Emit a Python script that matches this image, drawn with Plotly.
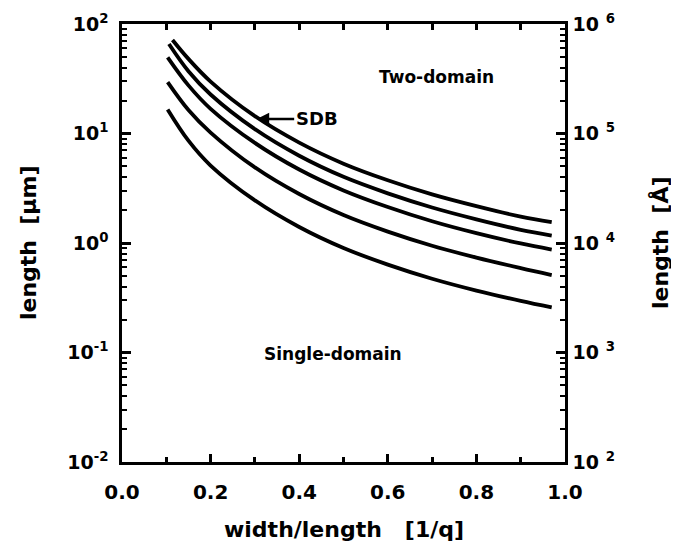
import math
import plotly.graph_objects as go

# ---- data ----
x_c1 = [0.114, 0.15, 0.2, 0.3, 0.4, 0.5, 0.6, 0.7, 0.8, 0.9, 0.97]
y_c1 = [71.5, 48, 29.8, 14.4, 8.25, 5.30, 3.74, 2.78, 2.17, 1.74, 1.55]
x_c2 = [0.106, 0.15, 0.2, 0.3, 0.4, 0.5, 0.6, 0.7, 0.8, 0.9, 0.97]
y_c2 = [65.6, 37, 22.7, 10.95, 6.26, 4.02, 2.84, 2.11, 1.645, 1.32, 1.17]
x_c3 = [0.103, 0.15, 0.2, 0.3, 0.4, 0.5, 0.6, 0.7, 0.8, 0.9, 0.97]
y_c3 = [49.6, 27.5, 16.8, 8.2, 4.69, 3.02, 2.13, 1.58, 1.23, 0.99, 0.87]
x_c4 = [0.103, 0.15, 0.2, 0.3, 0.4, 0.5, 0.6, 0.7, 0.8, 0.9, 0.97]
y_c4 = [29.5, 16.4, 10.2, 4.9, 2.8, 1.80, 1.27, 0.944, 0.736, 0.59, 0.51]
x_c5 = [0.103, 0.15, 0.2, 0.3, 0.4, 0.5, 0.6, 0.7, 0.8, 0.9, 0.97]
y_c5 = [16.6, 8.6, 5.1, 2.45, 1.40, 0.90, 0.635, 0.472, 0.368, 0.296, 0.258]

x_ticks = [0.0, 0.2, 0.4, 0.6, 0.8, 1.0]
x_ticklabels = ["0.0", "0.2", "0.4", "0.6", "0.8", "1.0"]
x_minor = [0.1, 0.3, 0.5, 0.7, 0.9]
yl_ticks = [0.01, 0.1, 1, 10, 100]
yl_ticklabels = ["10<sup>-2</sup>", "10<sup>-1</sup>", "10<sup>0</sup>", "10<sup>1</sup>", "10<sup>2</sup>"]
yr_ticks = [1e2, 1e3, 1e4, 1e5, 1e6]
yr_ticklabels = ["10 <sup>2</sup>", "10 <sup>3</sup>", "10 <sup>4</sup>", "10 <sup>5</sup>", "10 <sup>6</sup>"]
y_minor = [m * 10.0 ** e for e in (-2, -1, 0, 1) for m in range(2, 10)]

FONT = "DejaVu Sans"
NB = "\u00a0"

fig = go.Figure()
for xs, ys in [(x_c1, y_c1), (x_c2, y_c2), (x_c3, y_c3), (x_c4, y_c4), (x_c5, y_c5)]:
    fig.add_trace(go.Scatter(x=xs, y=ys, mode="lines",
                             line=dict(color="black", width=3.8, shape="spline", smoothing=1.0),
                             showlegend=False, hoverinfo="skip"))
# empty traces to anchor the helper axes (tick-only axes)
fig.add_trace(go.Scatter(x=[], y=[], yaxis="y2", showlegend=False, hoverinfo="skip"))
fig.add_trace(go.Scatter(x=[], y=[], xaxis="x2", yaxis="y3", showlegend=False, hoverinfo="skip"))
fig.add_trace(go.Scatter(x=[], y=[], xaxis="x3", yaxis="y4", showlegend=False, hoverinfo="skip"))

tickfont_x = dict(family=FONT, size=20, color="black", weight="bold")
tickfont_y = dict(family=FONT, size=19, color="black", weight="bold")
blank = lambda v: [""] * len(v)

fig.update_layout(
    template="none",
    width=671, height=542,
    margin=dict(l=114, r=114, t=16, b=88, autoexpand=False),
    paper_bgcolor="white", plot_bgcolor="white",
    xaxis=dict(range=[0, 1], tickmode="array", tickvals=x_ticks, ticktext=x_ticklabels,
               ticks="inside", ticklen=8, tickwidth=2.5, tickcolor="black",
               showline=True, linewidth=3, linecolor="black", mirror=True,
               showgrid=False, zeroline=False, tickfont=tickfont_x,
               ticklabelstandoff=10, automargin=False),
    xaxis2=dict(range=[0, 1], overlaying="x", anchor="y", side="bottom",
                tickmode="array", tickvals=x_minor, ticktext=blank(x_minor),
                ticks="inside", ticklen=5, tickwidth=2.5, tickcolor="black",
                showline=False, showgrid=False, zeroline=False, automargin=False),
    xaxis3=dict(range=[0, 1], overlaying="x", anchor="y", side="top",
                tickmode="array", tickvals=x_ticks + x_minor,
                ticktext=blank(x_ticks + x_minor),
                ticks="inside", ticklen=6, tickwidth=2.5, tickcolor="black",
                showline=False, showgrid=False, zeroline=False, automargin=False),
    yaxis=dict(type="log", range=[-2, 2], tickmode="array", tickvals=yl_ticks,
               ticktext=[t + NB for t in yl_ticklabels],
               ticks="inside", ticklen=9, tickwidth=2.5, tickcolor="black",
               showline=True, linewidth=3, linecolor="black", mirror=True,
               showgrid=False, zeroline=False, tickfont=tickfont_y, automargin=False),
    yaxis3=dict(type="log", range=[-2, 2], overlaying="y", anchor="x", side="left",
                tickmode="array", tickvals=y_minor, ticktext=blank(y_minor),
                ticks="inside", ticklen=5, tickwidth=2, tickcolor="black",
                showline=False, showgrid=False, zeroline=False, automargin=False),
    yaxis4=dict(type="log", range=[-2, 2], overlaying="y", anchor="x", side="right",
                tickmode="array", tickvals=y_minor, ticktext=blank(y_minor),
                ticks="inside", ticklen=5, tickwidth=2, tickcolor="black",
                showline=False, showgrid=False, zeroline=False, automargin=False),
    yaxis2=dict(type="log", range=[2, 6], overlaying="y", side="right", anchor="x",
                tickmode="array", tickvals=yr_ticks, ticktext=[NB + t for t in yr_ticklabels],
                ticks="inside", ticklen=9, tickwidth=2.5, tickcolor="black",
                showline=False, showgrid=False, zeroline=False,
                tickfont=tickfont_y, automargin=False),
)

titlefont = dict(family=FONT, size=22, color="black", weight="bold")
fig.add_annotation(text="width/length   [1/q]", xref="paper", yref="paper",
                   x=0.5, y=-0.155, xanchor="center", yanchor="middle",
                   showarrow=False, font=titlefont)
fig.add_annotation(text="length  [µm]", xref="paper", yref="paper",
                   x=-0.212, y=0.5, xanchor="center", yanchor="middle", textangle=-90,
                   showarrow=False, font=titlefont)
fig.add_annotation(text="length  [Å]", xref="paper", yref="paper",
                   x=1.2145, y=0.5, xanchor="center", yanchor="middle", textangle=-90,
                   showarrow=False, font=titlefont)

labfont = dict(family=FONT, size=17, color="black", weight="bold")
fig.add_annotation(text="Two-domain", x=0.709, y=math.log10(32.8), xref="x", yref="y",
                   xanchor="center", yanchor="middle", showarrow=False, font=labfont)
fig.add_annotation(text="Single-domain", x=0.476, y=math.log10(0.0968), xref="x", yref="y",
                   xanchor="center", yanchor="middle", showarrow=False, font=labfont)
fig.add_annotation(text="SDB", x=0.304, y=math.log10(13.6), xref="x", yref="y",
                   ax=60, ay=0, showarrow=True, arrowhead=2, arrowsize=1,
                   arrowwidth=2.5, arrowcolor="black", standoff=0,
                   font=dict(family=FONT, size=18, color="black", weight="bold"))

fig.write_html("out.html")
